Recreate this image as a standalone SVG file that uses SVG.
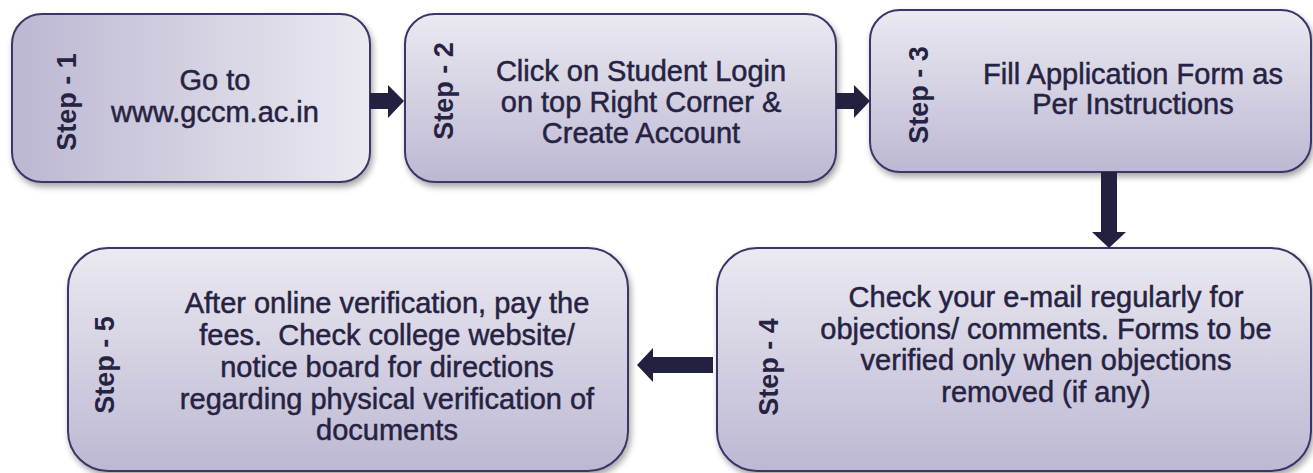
<svg xmlns="http://www.w3.org/2000/svg" width="1313" height="473" viewBox="0 0 1313 473">
<defs>
<linearGradient id="gh" x1="0" y1="0" x2="1" y2="0"><stop offset="0" stop-color="#bcb7d2"/><stop offset="1" stop-color="#ebe9f1"/></linearGradient>
<linearGradient id="gv" x1="0" y1="0" x2="0" y2="1"><stop offset="0" stop-color="#ebe9f1"/><stop offset="1" stop-color="#bdb8d3"/></linearGradient>
<filter id="sh" x="-10%" y="-10%" width="120%" height="130%"><feDropShadow dx="2" dy="4" stdDeviation="3" flood-color="#000" flood-opacity="0.35"/></filter>
<style>
.box{stroke:#3d3466;stroke-width:2;filter:url(#sh)}
.t{font-family:"Liberation Sans",Arial,sans-serif;font-size:29px;fill:#262342;stroke:#262342;stroke-width:0.5;text-anchor:middle}
.s{font-family:"Liberation Sans",Arial,sans-serif;font-size:27px;font-weight:bold;fill:#262342;text-anchor:middle}
.arr{fill:#22213f}
</style>
</defs>
<rect width="1313" height="473" fill="#fff"/>
<g id="step1">
<rect class="box" x="12" y="14" width="358" height="168" rx="30" fill="url(#gh)"/>
<text class="s" transform="translate(76,102) rotate(-90)">Step - 1</text>
<text class="t" x="215" y="90">Go to</text>
<text class="t" x="215" y="122">www.gccm.ac.in</text>
</g>
<g id="step2">
<rect class="box" x="405" y="14" width="431" height="168" rx="30" fill="url(#gv)"/>
<text class="s" transform="translate(453,91) rotate(-90)">Step - 2</text>
<text class="t" x="641" y="81">Click on Student Login</text>
<text class="t" x="641" y="112">on top Right Corner &amp;</text>
<text class="t" x="641" y="143">Create Account</text>
</g>
<g id="step3">
<rect class="box" x="870" y="10" width="441" height="162" rx="30" fill="url(#gv)"/>
<text class="s" transform="translate(928,95) rotate(-90)">Step - 3</text>
<text class="t" x="1133" y="84">Fill Application Form as</text>
<text class="t" x="1133" y="114">Per Instructions</text>
</g>
<g id="step4">
<rect class="box" x="717" y="248" width="594" height="223" rx="40" fill="url(#gv)"/>
<text class="s" transform="translate(778,367) rotate(-90)">Step - 4</text>
<text class="t" x="1046" y="307">Check your e-mail regularly for</text>
<text class="t" x="1046" y="339">objections/ comments. Forms to be</text>
<text class="t" x="1046" y="370">verified only when objections</text>
<text class="t" x="1046" y="402">removed (if any)</text>
</g>
<g id="step5">
<rect class="box" x="68" y="248" width="560" height="223" rx="40" fill="url(#gv)"/>
<text class="s" transform="translate(114,365) rotate(-90)">Step - 5</text>
<text class="t" x="387" y="313">After online verification, pay the</text>
<text class="t" x="387" y="345" xml:space="preserve">fees.  Check college website/</text>
<text class="t" x="387" y="377">notice board for directions</text>
<text class="t" x="387" y="409">regarding physical verification of</text>
<text class="t" x="387" y="440">documents</text>
</g>
<g id="connectors">
<polygon class="arr" points="370,93 388,93 388,85 404,101 388,118 388,109 370,109"/>
<polygon class="arr" points="836,93 854,93 854,85 870,101 854,118 854,109 836,109"/>
<polygon class="arr" points="1101,172 1117,172 1117,232 1126,232 1109,248 1092,232 1101,232"/>
<polygon class="arr" points="713,357 653,357 653,348 637,365 653,382 653,373 713,373"/>
</g>
</svg>
